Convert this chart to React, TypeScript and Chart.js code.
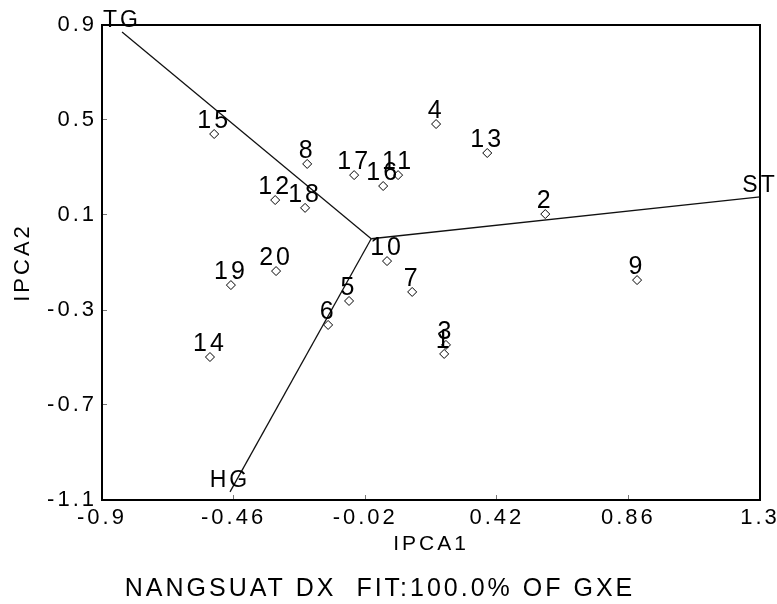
import React, { useEffect, useRef } from "react";
import { Chart, registerables } from "chart.js";

Chart.register(...registerables);

// ---- data ----
const genotypes = ["1", "2", "3", "4", "5", "6", "7", "8", "9", "10", "11", "12", "13", "14", "15", "16", "17", "18", "19", "20"];
const ipca1 = [0.244, 0.582, 0.25, 0.217, -0.074, -0.144, 0.137, -0.214, 0.889, 0.053, 0.09, -0.321, 0.388, -0.539, -0.525, 0.04, -0.057, -0.221, -0.469, -0.318];
const ipca2 = [-0.485, 0.104, -0.447, 0.483, -0.262, -0.363, -0.224, 0.315, -0.174, -0.094, 0.268, 0.163, 0.361, -0.498, 0.441, 0.222, 0.268, 0.13, -0.195, -0.136];

const environments = ["TG", "ST", "HG"];
const envIpca1 = [-0.833, 1.3, -0.472];
const envIpca2 = [0.871, 0.176, -1.066];

const xTicks = [-0.9, -0.46, -0.02, 0.42, 0.86, 1.3];
const yTicks = [-1.1, -0.7, -0.3, 0.1, 0.5, 0.9];

const xTitle = "IPCA1";
const yTitle = "IPCA2";
const chartTitle = "NANGSUAT DX  FIT:100.0% OF GXE";

const FONT = "'Liberation Sans', Arial, sans-serif";

const spacingPlugin = {
  id: "spacing",
  beforeUpdate(chart: any) {
    chart.ctx.letterSpacing = "3px";
  },
  beforeDraw(chart: any) {
    chart.ctx.letterSpacing = "3px";
  },
};

const framePlugin = {
  id: "frame",
  afterDraw(chart: any) {
    const { ctx, chartArea } = chart;
    ctx.save();
    ctx.strokeStyle = "#000";
    ctx.lineWidth = 2;
    ctx.strokeRect(chartArea.left, chartArea.top, chartArea.right - chartArea.left, chartArea.bottom - chartArea.top);
    ctx.restore();
  },
};

const labelPlugin = {
  id: "pointLabels",
  afterDatasetsDraw(chart: any) {
    const ctx = chart.ctx;
    ctx.save();
    ctx.fillStyle = "#000";
    ctx.textAlign = "center";
    ctx.textBaseline = "alphabetic";
    ctx.letterSpacing = "3px";
    const m0 = chart.getDatasetMeta(0);
    ctx.font = `25px ${FONT}`;
    m0.data.forEach((pt: any, i: number) => {
      ctx.fillText(genotypes[i], pt.x, pt.y - 6);
    });
    ctx.font = `23px ${FONT}`;
    environments.forEach((name, i) => {
      const meta = chart.getDatasetMeta(i + 1);
      const pt = meta.data[1];
      if (pt) ctx.fillText(name, pt.x, pt.y - 5);
    });
    ctx.restore();
  },
};

export default function App() {
  const ref = useRef<HTMLCanvasElement | null>(null);

  useEffect(() => {
    if (!ref.current) return;
    const datasets: any[] = [
      {
        label: "Genotypes",
        data: genotypes.map((g, i) => ({ x: ipca1[i], y: ipca2[i] })),
        pointStyle: "rectRot",
        pointRadius: 4.5,
        pointBackgroundColor: "#fff",
        pointBorderColor: "#000",
        pointBorderWidth: 1,
        showLine: false,
      },
      ...environments.map((e, i) => ({
        label: e,
        data: [
          { x: 0, y: 0 },
          { x: envIpca1[i], y: envIpca2[i] },
        ],
        showLine: true,
        borderColor: "#111",
        borderWidth: 1.3,
        pointRadius: 0,
        clip: false,
      })),
    ];

    const chart = new Chart(ref.current, {
      type: "scatter",
      data: { datasets },
      plugins: [spacingPlugin, labelPlugin, framePlugin],
      options: {
        animation: false,
        responsive: false,
        layout: { padding: { top: 25, right: 17, bottom: 0, left: 0 } },
        plugins: {
          legend: { display: false },
          tooltip: { enabled: false },
          title: {
            display: true,
            position: "bottom",
            text: chartTitle,
            color: "#000",
            font: { family: FONT, size: 25, weight: "normal" },
            padding: { top: 5, bottom: 0 },
          },
        },
        scales: {
          x: {
            type: "linear",
            position: "bottom",
            min: -0.9,
            max: 1.3,
            afterBuildTicks: (s: any) => {
              s.ticks = xTicks.map((v) => ({ value: v }));
            },
            afterFit: (s: any) => {
              s.height = 69;
              s.paddingLeft = 0;
              s.paddingRight = 0;
            },
            ticks: {
              color: "#000",
              font: { family: FONT, size: 22 },
              padding: 10,
              maxRotation: 0,
              autoSkip: false,
              callback: (v: any) => String(v),
            },
            grid: { drawOnChartArea: false, tickLength: -5, color: "#777", lineWidth: 1 },
            border: { display: true, color: "#000", width: 2 },
            title: {
              display: true,
              text: xTitle,
              color: "#000",
              font: { family: FONT, size: 21 },
              padding: { top: 0, bottom: 12 },
            },
          },
          y: {
            type: "linear",
            position: "left",
            min: -1.1,
            max: 0.9,
            afterBuildTicks: (s: any) => {
              s.ticks = yTicks.map((v) => ({ value: v }));
            },
            afterFit: (s: any) => {
              s.width = 102;
              s.paddingTop = 0;
              s.paddingBottom = 0;
            },
            ticks: {
              color: "#000",
              font: { family: FONT, size: 22 },
              padding: 10,
              autoSkip: false,
              callback: (v: any) => String(v),
            },
            grid: { drawOnChartArea: false, tickLength: -5, color: "#777", lineWidth: 1 },
            border: { display: true, color: "#000", width: 2 },
            title: {
              display: true,
              text: yTitle,
              color: "#000",
              font: { family: FONT, size: 22 },
              padding: { top: 10, bottom: 0 },
            },
          },
        },
      } as any,
    });
    return () => chart.destroy();
  }, []);

  return (
    <div style={{ position: "absolute", left: 0, top: 0, width: 777, height: 604, background: "#fff" }}>
      <canvas ref={ref} width={777} height={604} />
    </div>
  );
}
